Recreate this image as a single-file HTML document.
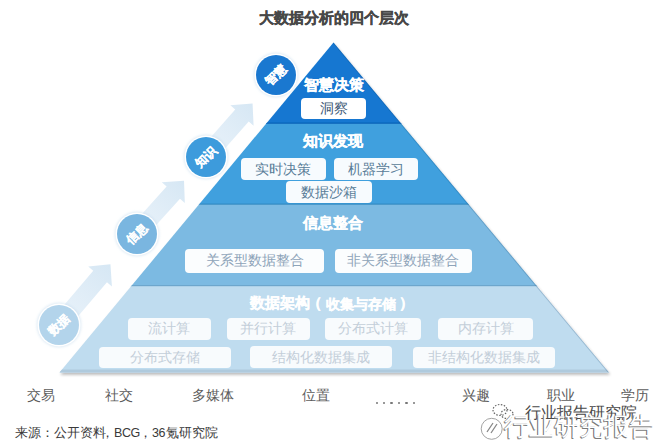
<!DOCTYPE html>
<html><head><meta charset="utf-8">
<style>
html,body{margin:0;padding:0;background:#fff;}
body{width:660px;height:444px;position:relative;overflow:hidden;font-family:"Liberation Sans",sans-serif;}
.a{position:absolute;white-space:nowrap;}
.title{left:259px;top:9px;font-size:15px;font-weight:bold;color:#484848;-webkit-text-stroke:0.35px #484848;}
.tt{font-size:15px;font-weight:bold;color:#fff;line-height:16px;-webkit-text-stroke:0.3px #fff;}
.box{position:absolute;background:#fff;border-radius:4px;text-align:center;font-size:14px;}
.b1{color:#3a5673;}
.b2{color:#587c97;background:#f7fbfe;}
.b3{color:#8ea4b9;font-size:13.5px;background:#fbfdfe;}
.b4{color:#c3ced9;background:#f8fbfd;}
.circ{position:absolute;width:40px;height:40px;border-radius:50%;box-shadow:0 0 0 1.5px #fff,0 0 3px 2px rgba(190,215,235,.6);}
.ctext{position:absolute;left:0;top:0;width:40px;height:40px;line-height:40px;text-align:center;font-size:12px;font-weight:bold;color:#fff;transform:rotate(-45deg);-webkit-text-stroke:0.2px #fff;}
.bl{font-size:14px;color:#5c5c5c;top:387px;}
.src{top:425px;font-size:12.8px;color:#3a3a3a;}
.lat{font-size:12.5px;letter-spacing:-0.4px;top:425.5px;}
.dot{position:absolute;width:2.2px;height:2.2px;border-radius:50%;background:#777;top:401.6px;}
</style></head><body>
<svg class="a" style="left:0;top:0" width="660" height="444" viewBox="0 0 660 444">
  <defs>
    <clipPath id="pyr"><polygon points="333.5,42.5 59.5,372.5 609,372.5"/></clipPath>
    <filter id="sh" x="-10%" y="-10%" width="120%" height="120%">
      <feGaussianBlur in="SourceAlpha" stdDeviation="1.8"/>
      <feOffset dx="0.5" dy="2"/>
      <feComponentTransfer><feFuncA type="linear" slope="0.28"/></feComponentTransfer>
      <feMerge><feMergeNode/><feMergeNode in="SourceGraphic"/></feMerge>
    </filter>
    <linearGradient id="ag" x1="0" y1="0" x2="1" y2="0">
      <stop offset="0" stop-color="#e2eef8" stop-opacity="0.75"/>
      <stop offset="1" stop-color="#d6e7f4"/>
    </linearGradient>
  </defs>
  <g filter="url(#sh)">
  <g clip-path="url(#pyr)">
    <rect x="0" y="40" width="660" height="84" fill="#1477d1"/>
    <rect x="0" y="123.5" width="660" height="81" fill="#3fa0de"/>
    <rect x="0" y="204.5" width="660" height="82" fill="#7bbae2"/>
    <rect x="0" y="286" width="660" height="90" fill="#bfdcef"/>
    <rect x="0" y="122.5" width="660" height="1.2" fill="#0d64b8"/>
    <rect x="0" y="203.5" width="660" height="1.2" fill="#348ac4"/>
    <rect x="0" y="285" width="660" height="1.2" fill="#6da6cc"/>
    <rect x="0" y="369.5" width="660" height="4" fill="#afcadd"/>
    <line x1="333.5" y1="42.5" x2="609" y2="372.5" stroke="#0a3a6a" stroke-opacity="0.22" stroke-width="1.8"/>
  </g>
  </g>
  <!-- arrows -->
  <g id="arrows" fill="url(#ag)">
    <polygon transform="translate(58.7,325.3) rotate(-49.7)" points="0,-9 64,-9 64,-15.5 80,0 64,15.5 64,9 0,9"/>
    <polygon transform="translate(136.5,233.5) rotate(-48)" points="0,-9 55,-9 55,-15.5 71,0 55,15.5 55,9 0,9"/>
    <polygon transform="translate(205.6,156.7) rotate(-48.6)" points="0,-9 55,-9 55,-15.5 71,0 55,15.5 55,9 0,9"/>
  </g>
</svg>

<div class="a title">大数据分析的四个层次</div>

<div class="circ" style="left:255.5px;top:55px;background:#1a78d0"><div class="ctext">智慧</div></div>
<div class="circ" style="left:185.6px;top:136.7px;background:#3d9bdc"><div class="ctext">知识</div></div>
<div class="circ" style="left:116.5px;top:213.5px;background:#7ab6e0"><div class="ctext">信息</div></div>
<div class="circ" style="left:38.7px;top:305.3px;background:#b3d4eb"><div class="ctext">数据</div></div>

<div class="a tt" style="left:304px;top:76.5px">智慧决策</div>
<div class="box b1" style="left:301px;top:98px;width:65px;height:21px;line-height:21px">洞察</div>

<div class="a tt" style="left:303px;top:133px">知识发现</div>
<div class="box b2" style="left:241px;top:158px;width:84.5px;height:22px;line-height:22px">实时决策</div>
<div class="box b2" style="left:334px;top:157.5px;width:84px;height:22px;line-height:22px">机器学习</div>
<div class="box b2" style="left:286px;top:181px;width:85.5px;height:22px;line-height:22px">数据沙箱</div>

<div class="a tt" style="left:303px;top:215px">信息整合</div>
<div class="box b3" style="left:185.3px;top:248.5px;width:139px;height:24.5px;line-height:24.5px">关系型数据整合</div>
<div class="box b3" style="left:334.5px;top:248.5px;width:137px;height:24px;line-height:24px">非关系型数据整合</div>

<div class="a tt" style="left:250px;top:295px">数据架构</div>
<div class="a tt" style="left:307px;top:295px">（</div>
<div class="a tt" style="left:325.5px;top:295.5px;font-size:14px">收集与存储</div>
<div class="a tt" style="left:399px;top:295px">）</div>
<div class="box b4" style="left:127.5px;top:317.5px;width:83px;height:22px;line-height:20.5px">流计算</div>
<div class="box b4" style="left:226.5px;top:317.5px;width:83px;height:22px;line-height:20.5px">并行计算</div>
<div class="box b4" style="left:325px;top:317.5px;width:95.5px;height:22px;line-height:20.5px">分布式计算</div>
<div class="box b4" style="left:438px;top:317.5px;width:95px;height:22px;line-height:20.5px">内存计算</div>
<div class="box b4" style="left:99px;top:346.5px;width:132px;height:21.5px;line-height:21.5px">分布式存储</div>
<div class="box b4" style="left:250px;top:346px;width:142px;height:22px;line-height:22px">结构化数据集成</div>
<div class="box b4" style="left:412.5px;top:346.5px;width:142px;height:21.5px;line-height:21.5px">非结构化数据集成</div>

<div class="a bl" style="left:27px">交易</div>
<div class="a bl" style="left:105px">社交</div>
<div class="a bl" style="left:192px">多媒体</div>
<div class="a bl" style="left:302px">位置</div>
<div class="dot" style="left:375.7px"></div><div class="dot" style="left:383.2px"></div><div class="dot" style="left:390.4px"></div><div class="dot" style="left:398px"></div><div class="dot" style="left:405.4px"></div><div class="dot" style="left:413px"></div>
<div class="a bl" style="left:462px">兴趣</div>
<div class="a bl" style="left:547px">职业</div>
<div class="a bl" style="left:621px">学历</div>

<div class="a src" style="left:15px">来源：公开资料</div>
<div class="a src" style="left:100.5px">，</div>
<div class="a src lat" style="left:114px">BCG</div>
<div class="a src" style="left:138.5px">，</div>
<div class="a src lat" style="left:152px">36</div>
<div class="a src" style="left:165.5px">氪研究院</div>


<!-- watermark -->
<svg class="a" style="left:490px;top:403px" width="28" height="18" viewBox="0 0 28 18">
  <g fill="none" stroke="#666" stroke-width="1.2" stroke-dasharray="1.5 1.5">
    <ellipse cx="10" cy="7" rx="7" ry="5.5"/>
    <ellipse cx="17" cy="11" rx="6" ry="4.5"/>
  </g>
</svg>
<div class="a" style="left:525px;top:402px;font-size:16.3px;color:#4a4a4a;letter-spacing:0">行业报告研究院</div>
<svg class="a" style="left:478.5px;top:413.5px" width="28" height="28" viewBox="0 0 28 28">
  <circle cx="13.5" cy="14" r="10.5" fill="none" stroke="#fff" stroke-width="2.4"/>
  <circle cx="13.5" cy="14" r="10.5" fill="none" stroke="#999" stroke-width="0.9" transform="translate(-0.8,0.8)"/>
  <path d="M8 18 L14 9 M12 19 L18 10" stroke="#888" stroke-width="1.3" fill="none"/>
</svg>
<div class="a" style="left:504px;top:410px;font-size:24.5px;color:#fff;text-shadow:-1px 1px 0 #7a7a7a,-0.6px 0 0 #9a9a9a;letter-spacing:0">行业研究报告</div>
</body></html>
